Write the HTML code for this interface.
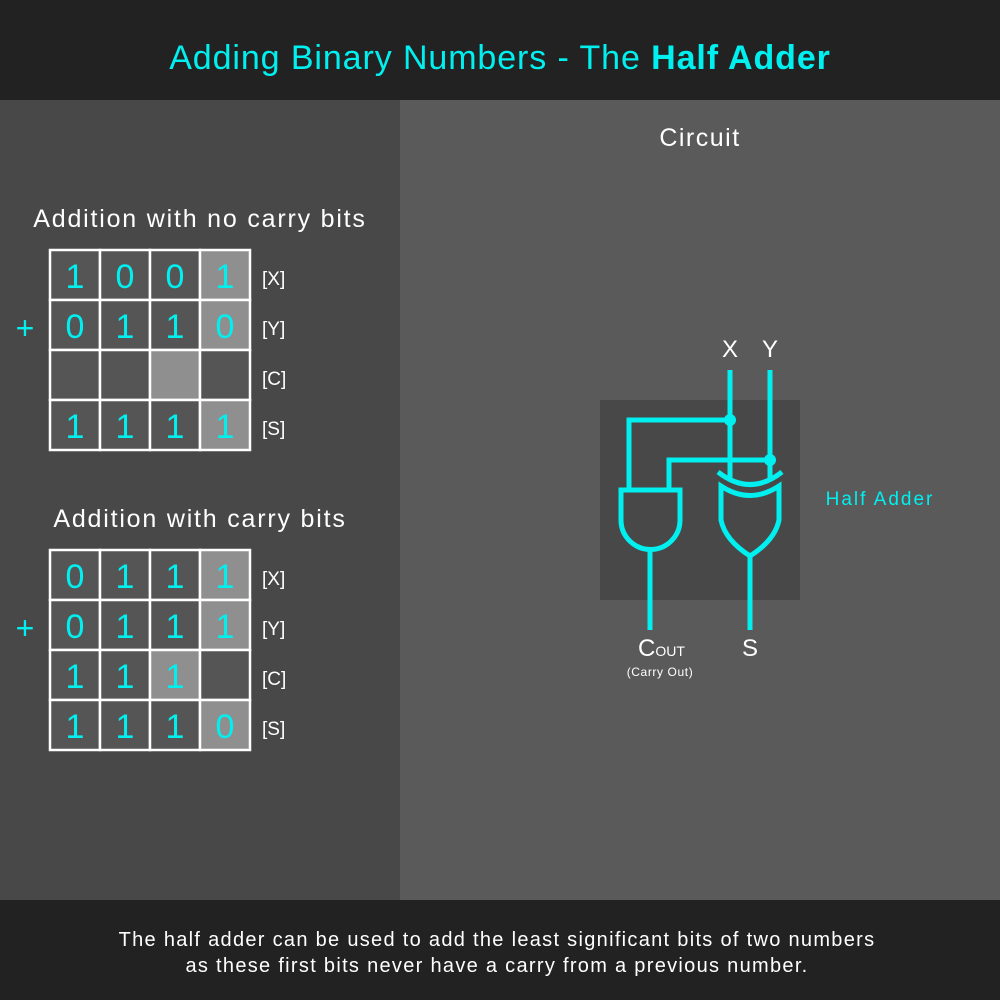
<!DOCTYPE html>
<html><head><meta charset="utf-8"><style>
body{margin:0;width:1000px;height:1000px;overflow:hidden;font-family:"Liberation Sans",sans-serif;}
</style></head><body>
<svg width="1000" height="1000" viewBox="0 0 1000 1000" style="display:block">
<rect x="0" y="0" width="1000" height="100" fill="#222"/>
<rect x="0" y="100" width="400" height="800" fill="#484848"/>
<rect x="400" y="100" width="600" height="800" fill="#5a5a5a"/>
<rect x="0" y="900" width="1000" height="100" fill="#222"/>
<text x="500" y="69" text-anchor="middle" font-size="34" letter-spacing="0.9" fill="#00f0f0">Adding Binary Numbers - The <tspan font-weight="bold">Half Adder</tspan></text>
<text x="700" y="146" text-anchor="middle" font-size="25" letter-spacing="1.5" fill="#fff">Circuit</text>
<text x="200" y="227" text-anchor="middle" font-size="25" letter-spacing="1.8" fill="#fff">Addition with no carry bits</text>
<text x="200" y="527" text-anchor="middle" font-size="25" letter-spacing="1.8" fill="#fff">Addition with carry bits</text>
<g id="grids"></g>
<g fill="none" stroke="#00f0f0" stroke-width="5">
<rect x="600" y="400" width="200" height="200" fill="#484848" stroke="none"/>
<path d="M730 370 V478 M770 370 V478 M730 420 H629 V488 M770 460 H669 V488"/>
<circle cx="730" cy="420" r="6" fill="#00f0f0" stroke="none"/>
<circle cx="770" cy="460" r="6" fill="#00f0f0" stroke="none"/>
<path d="M621 490 H680 V520 A29.5 29.5 0 0 1 621 520 Z"/>
<path d="M650 550 V630"/>
<path d="M718 472 Q750 497 782 472"/>
<path d="M721 486 Q750 505 779 486 V520 Q775 540 750 556 Q725 540 721 520 Z"/>
<path d="M750 556 V630"/>
</g>
<text x="730" y="357" text-anchor="middle" font-size="24" fill="#fff">X</text>
<text x="770" y="357" text-anchor="middle" font-size="24" fill="#fff">Y</text>
<text x="638" y="656" font-size="24" fill="#fff">C<tspan font-size="14">OUT</tspan></text>
<text x="660" y="676" text-anchor="middle" font-size="12" letter-spacing="0.6" fill="#fff">(Carry Out)</text>
<text x="750" y="656" text-anchor="middle" font-size="24" fill="#fff">S</text>
<text x="880" y="505" text-anchor="middle" font-size="19" letter-spacing="2" fill="#00f0f0">Half Adder</text>
<text x="497" y="946" text-anchor="middle" font-size="20" letter-spacing="1.3" fill="#fff">The half adder can be used to add the least significant bits of two numbers</text>
<text x="497" y="972" text-anchor="middle" font-size="20" letter-spacing="1.3" fill="#fff">as these first bits never have a carry from a previous number.</text>
</svg>
<script>
const rowLabels=["[X]","[Y]","[C]","[S]"];
const grid1=[["1","0","0","1"],["0","1","1","0"],["","","",""],["1","1","1","1"]];
const grid1Hi=[[0,0,0,1],[0,0,0,1],[0,0,1,0],[0,0,0,1]];
const grid2=[["0","1","1","1"],["0","1","1","1"],["1","1","1",""],["1","1","1","0"]];
const grid2Hi=[[0,0,0,1],[0,0,0,1],[0,0,1,0],[0,0,0,1]];
const NS="http://www.w3.org/2000/svg";
const g=document.getElementById('grids');
function mk(t,a){const e=document.createElementNS(NS,t);for(const k in a)e.setAttribute(k,a[k]);g.appendChild(e);return e;}
function draw(vals,hi,y0,name){
 for(let r=0;r<4;r++){for(let c=0;c<4;c++){
  const x=50+c*50,y=y0+r*50;
  const rc=mk('rect',{x:x,y:y,width:50,height:50,fill:hi[r][c]?'#8f8f8f':'#555',stroke:'#fff','stroke-width':2.5});
  
  
  if(vals[r][c]!==""){const t=mk('text',{x:x+25,y:y+38,'text-anchor':'middle','font-size':34,fill:'#00f0f0'});t.textContent=vals[r][c];
  
  }
 }
 const l=mk('text',{x:262,y:y0+r*50+35,'font-size':19,fill:'#fff'});l.textContent=rowLabels[r];
 
 }
 const p=mk('text',{x:25,y:y0+89,'text-anchor':'middle','font-size':32,fill:'#00f0f0'});p.textContent='+';
 
 
}
draw(grid1,grid1Hi,250,'no-carry-grid');
draw(grid2,grid2Hi,550,'carry-grid');
</script>
</body></html>
